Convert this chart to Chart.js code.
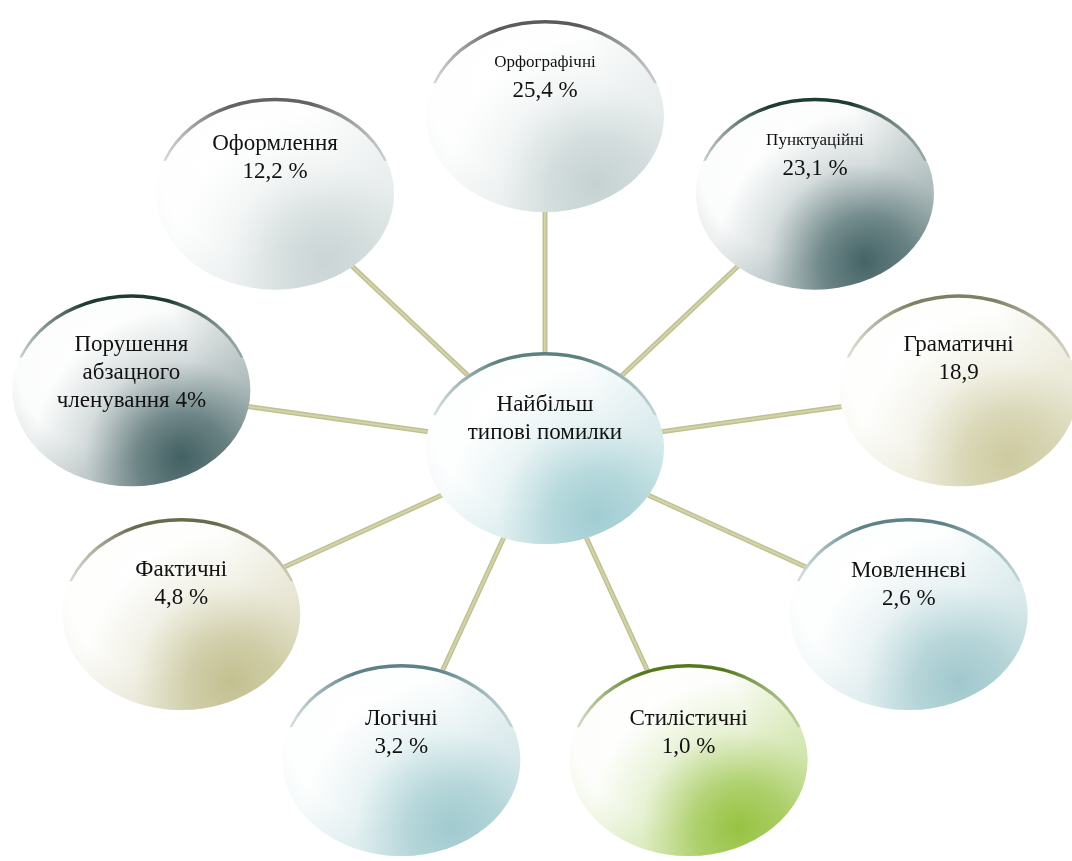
<!DOCTYPE html>
<html>
<head>
<meta charset="utf-8">
<script src="https://cdn.jsdelivr.net/npm/chart.js@4.4.1/dist/chart.umd.min.js"></script>
<style>
  html, body { margin: 0; padding: 0; background: #fff; }
  canvas { display: block; }
</style>
</head>
<body>
<canvas id="chart" width="1072" height="861"></canvas>
<script>
// --- data ---
const centerLabel = 'Найбільш\nтипові помилки';
const categories = [
  'Орфографічні\n{v}',
  'Пунктуаційні\n{v}',
  'Граматичні\n{v}',
  'Мовленнєві\n{v}',
  'Стилістичні\n{v}',
  'Логічні\n{v}',
  'Фактичні\n{v}',
  'Порушення\nабзацного\nчленування {v}',
  'Оформлення\n{v}',
];
const shares = [25.4, 23.1, 18.9, 2.6, 1.0, 3.2, 4.8, 4, 12.2];
const decimals = [1, 1, 1, 1, 1, 1, 1, 0, 1];
const units = [' %', ' %', '', ' %', ' %', ' %', ' %', '%', ' %'];

// --- layout / style ---
// nodes sit on a ring, clockwise from the top, 40 degrees apart
const angles = categories.map((_, i) => 90 - 40 * i);
const fills = ['#c3d0d0', '#3c5d5f', '#cbc89c', '#9cc6cb', '#92c03a', '#9cc8cd', '#c0bd8b', '#3a595b', '#c8d3d3'];
const rims = ['#5a5a5a', '#1d3b31', '#7f7f62', '#5c8286', '#54791a', '#5c8286', '#69694c', '#1d3b31', '#626262'];
const nameSize = [17, 17, 23, 23, 23, 23, 23, 23, 23];
const valueSize = 23;
const textShift = [-39, -39, -31, -29, -27, -27, -30, -17, -36];
const RX = 119, RY = 96;

const fmt = (v, d) => v.toFixed(d).replace('.', ',');

function rgba(hex, a) {
  const n = parseInt(hex.slice(1), 16);
  return `rgba(${(n >> 16) & 255},${(n >> 8) & 255},${n & 255},${a})`;
}

function drawNode(ctx, x, y, fill, rim) {
  ctx.save();
  ctx.beginPath();
  ctx.ellipse(x, y, RX, RY, 0, 0, Math.PI * 2);
  ctx.fillStyle = '#fff';
  ctx.fill();
  // faint tint towards the edge so the outline reads on white
  const e = ctx.createRadialGradient(x - RX * 0.25, y - RY * 0.3, 0, x - RX * 0.25, y - RY * 0.3, RX * 1.3);
  e.addColorStop(0, rgba(fill, 0));
  e.addColorStop(0.55, rgba(fill, 0.02));
  e.addColorStop(1, rgba(fill, 0.3));
  ctx.fillStyle = e;
  ctx.fill();
  // colour pooled to the lower right
  const g = ctx.createRadialGradient(x + RX * 0.42, y + RY * 0.7, 0, x + RX * 0.42, y + RY * 0.7, RX * 1.25);
  g.addColorStop(0, rgba(fill, 0.95));
  g.addColorStop(0.3, rgba(fill, 0.7));
  g.addColorStop(0.65, rgba(fill, 0.2));
  g.addColorStop(1, rgba(fill, 0));
  ctx.fillStyle = g;
  ctx.fill();
  ctx.restore();

  // dark rim along the top edge
  ctx.save();
  ctx.beginPath();
  ctx.rect(x - RX - 2, y - RY - 4, RX * 2 + 4, RY * 0.7);
  ctx.clip();
  const rg = ctx.createLinearGradient(x - RX, 0, x + RX, 0);
  rg.addColorStop(0, rgba(rim, 0.15));
  rg.addColorStop(0.3, rim);
  rg.addColorStop(0.65, rim);
  rg.addColorStop(1, rgba(rim, 0.15));
  ctx.beginPath();
  ctx.ellipse(x, y, RX, RY, 0, 0, Math.PI * 2);
  ctx.moveTo(x + RX - 1, y + 3.5);
  ctx.ellipse(x, y + 3.5, RX - 1, RY, 0, 0, Math.PI * 2);
  ctx.fillStyle = rg;
  ctx.fill('evenodd');
  ctx.restore();
}

function drawText(ctx, x, y, lines, sizes) {
  const lh = 28;
  const top = y - (lines.length - 1) * lh / 2;
  ctx.save();
  ctx.fillStyle = '#111';
  ctx.textAlign = 'center';
  ctx.textBaseline = 'middle';
  lines.forEach((line, k) => {
    ctx.font = `${sizes[k]}px "Liberation Serif", "Times New Roman", serif`;
    ctx.fillText(line, x, top + k * lh);
  });
  ctx.restore();
}

const mindMap = {
  id: 'mindMap',
  afterDatasetsDraw(chart) {
    const ctx = chart.ctx;
    const ring = chart.getDatasetMeta(0).data;
    const hub = chart.getDatasetMeta(1).data[0];

    // spokes
    ctx.save();
    ring.forEach(p => {
      ctx.beginPath();
      ctx.moveTo(hub.x, hub.y);
      ctx.lineTo(p.x, p.y);
      ctx.strokeStyle = '#c0c092';
      ctx.lineWidth = 5;
      ctx.stroke();
      ctx.strokeStyle = '#d3d3ab';
      ctx.lineWidth = 2;
      ctx.stroke();
    });
    ctx.restore();

    ring.forEach((p, i) => {
      drawNode(ctx, p.x, p.y, fills[i], rims[i]);
      const lines = categories[i].replace('{v}', fmt(shares[i], decimals[i]) + units[i]).split('\n');
      const sizes = lines.map((_, k) => (k === 0 ? nameSize[i] : valueSize));
      drawText(ctx, p.x, p.y + textShift[i], lines, sizes);
    });

    drawNode(ctx, hub.x, hub.y, '#9ccbd0', '#5c7f80');
    const cl = centerLabel.split('\n');
    drawText(ctx, hub.x, hub.y - 29, cl, cl.map(() => 23));
  },
};

new Chart(document.getElementById('chart'), {
  type: 'scatter',
  data: {
    datasets: [
      {
        data: angles.map(a => ({ x: Math.cos(a * Math.PI / 180), y: Math.sin(a * Math.PI / 180) })),
        pointRadius: 0,
      },
      {
        data: [{ x: 0, y: 0 }],
        pointRadius: 0,
      },
    ],
  },
  options: {
    responsive: false,
    animation: false,
    layout: { padding: 0 },
    plugins: { legend: { display: false }, tooltip: { enabled: false } },
    scales: {
      x: { display: false, min: -1.2976, max: 1.2548 },
      y: { display: false, min: -1.244, max: 1.3494 },
    },
  },
  plugins: [mindMap],
});
</script>
</body>
</html>
